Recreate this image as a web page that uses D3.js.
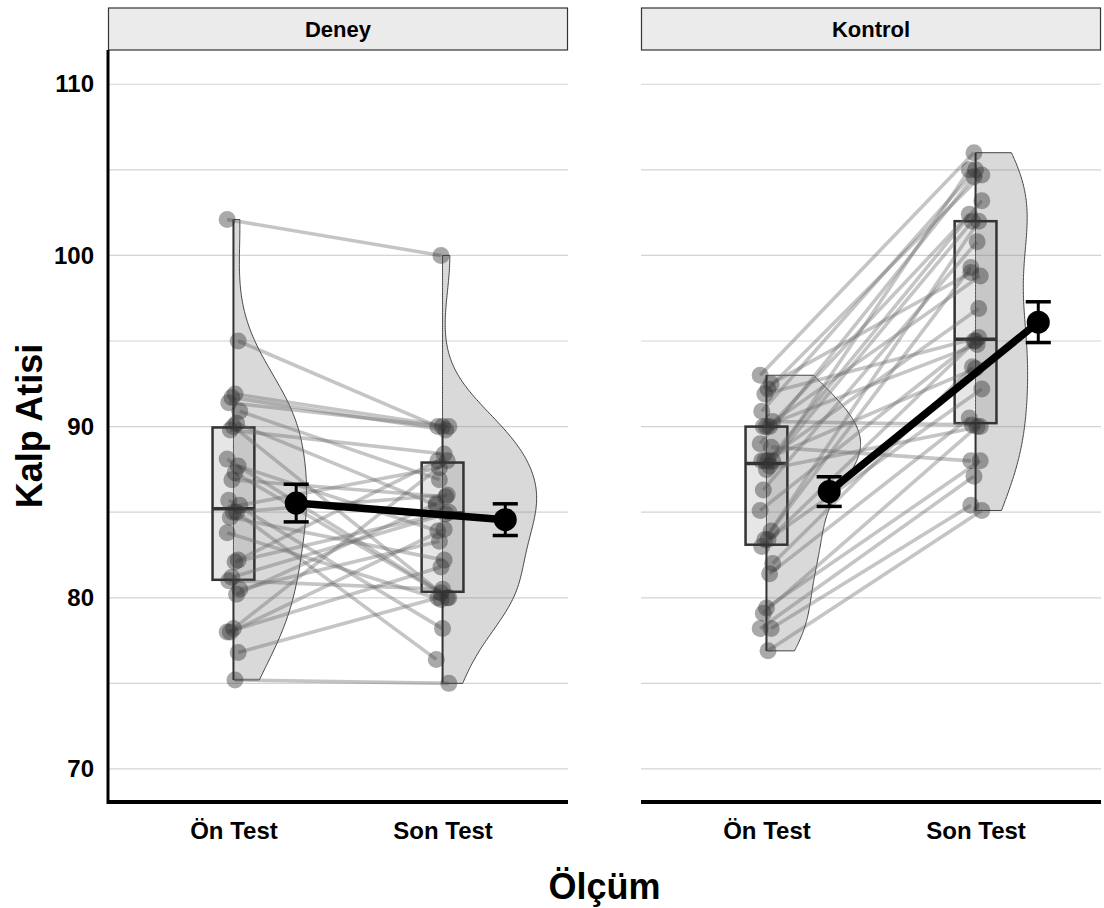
<!DOCTYPE html>
<meta charset="utf-8">
<style>
body { margin: 0; background: #fff; }
text { font-family: "Liberation Sans", Arial, sans-serif; font-weight: bold; fill: #000; }
.tick text { font-size: 24px; }
.strip text { font-size: 22px; }
</style>
<svg width="1104" height="908"></svg>
<script src="https://d3js.org/d3.v7.min.js"></script>
<script>
// facets and categories
var groups = ["Deney", "Kontrol"];
var olcum = ["Ön Test", "Son Test"];
var yTicks = [70, 80, 90, 100, 110];
var yGrid = [70, 75, 80, 85, 90, 95, 100, 105, 110];

// paired values, one entry per subject (Ön Test, Son Test)
var deneyOn  = [102.1, 95.0, 91.9, 91.7, 91.4, 90.9, 90.2, 90.0, 89.8, 88.1, 87.7, 87.3, 86.9, 85.7, 85.4,
                85.0, 85.0, 84.7, 83.8, 82.2, 82.1, 81.2, 81.0, 80.5, 80.2, 78.2, 78.0, 78.0, 76.8, 75.2];
var deneySon = [100.0, 90.0, 90.0, 89.8, 90.0, 86.9, 85.4, 80.0, 88.4, 80.3, 83.9, 80.0, 85.9, 78.2, 87.6,
                76.4, 86.0, 82.2, 79.9, 88.0, 85.0, 84.9, 80.5, 83.3, 85.5, 88.0, 84.0, 81.8, 80.0, 75.0];
var kontrolOn  = [93.0, 92.5, 92.2, 91.9, 90.9, 90.3, 90.0, 90.0, 90.0, 89.0, 88.8, 88.0, 88.0, 88.0, 88.0,
                  87.7, 87.5, 86.3, 85.1, 83.9, 83.4, 83.4, 83.0, 82.0, 81.4, 79.4, 79.1, 78.2, 78.2, 76.9];
var kontrolSon = [106.0, 99.0, 104.7, 95.2, 105.0, 90.1, 102.4, 98.8, 94.8, 104.6, 88.0, 103.2, 96.9, 93.4, 102.0,
                  105.0, 90.0, 100.8, 95.0, 99.3, 92.2, 102.0, 95.0, 93.5, 90.5, 88.0, 90.0, 87.1, 85.4, 85.1];

var panelData = [[deneyOn, deneySon], [kontrolOn, kontrolSon]];

var svg = d3.select("svg");
var panelX = [108, 641], panelW = 460, panelTop = 50, panelBottom = 802;

var y = d3.scaleLinear().domain([68.07, 112]).range([panelBottom, panelTop]);
var x = d3.scaleLinear().domain([0.4, 2.6]).range([0, panelW]);

function kde(values) {
  var n = values.length;
  var sd = d3.deviation(values);
  var iqr = d3.quantile(values, 0.75) - d3.quantile(values, 0.25);
  var bw = 0.9 * Math.min(sd, iqr / 1.34) * Math.pow(n, -0.2);
  var lo = d3.min(values), hi = d3.max(values);
  return d3.range(256).map(function(i) {
    var yy = lo + (hi - lo) * i / 255;
    var d = d3.mean(values, function(v) {
      var u = (yy - v) / bw;
      return Math.exp(-0.5 * u * u) / Math.sqrt(2 * Math.PI);
    }) / bw;
    return { y: yy, d: d };
  });
}

function jit(i, k) { return (((i * 7 + k * 3) % 9) - 4) / 4 * 0.03; }

groups.forEach(function(name, p) {
  var g = svg.append("g").attr("transform", "translate(" + panelX[p] + ",0)");
  var series = panelData[p];

  // strip
  var strip = g.append("g").attr("class", "strip");
  strip.append("rect").attr("x", 0.5).attr("y", 8).attr("width", panelW - 1).attr("height", 42)
    .attr("fill", "#ebebeb").attr("stroke", "#333").attr("stroke-width", 1.2);
  strip.append("text").attr("x", panelW / 2).attr("y", 37).attr("text-anchor", "middle").text(name);

  // grid
  g.selectAll(".grid").data(yGrid).enter().append("line")
    .attr("x1", 0).attr("x2", panelW)
    .attr("y1", function(d) { return y(d); }).attr("y2", function(d) { return y(d); })
    .attr("stroke", "#d3d3d3").attr("stroke-width", 1.2);

  // half violins
  var dens = series.map(kde);
  var maxD = d3.max(dens, function(a) { return d3.max(a, function(e) { return e.d; }); });
  dens.forEach(function(a, k) {
    var xc = x(k + 1);
    var area = d3.area()
      .x0(xc)
      .x1(function(e) { return xc + (e.d / maxD) * (x(1.45) - x(1)); })
      .y(function(e) { return y(e.y); });
    g.append("path").datum(a).attr("d", area)
      .attr("fill", "rgba(128,128,128,0.3)").attr("stroke", "#444").attr("stroke-width", 1);
  });

  // boxplots
  series.forEach(function(vals, k) {
    var xc = x(k + 1), hw = (x(1.1) - x(1));
    var q1 = d3.quantile(vals, 0.25), med = d3.median(vals), q3 = d3.quantile(vals, 0.75);
    var iqr = q3 - q1;
    var lo = d3.min(vals.filter(function(v) { return v >= q1 - 1.5 * iqr; }));
    var hi = d3.max(vals.filter(function(v) { return v <= q3 + 1.5 * iqr; }));
    g.append("line").attr("x1", xc).attr("x2", xc).attr("y1", y(hi)).attr("y2", y(q3))
      .attr("stroke", "#333").attr("stroke-width", 2);
    g.append("line").attr("x1", xc).attr("x2", xc).attr("y1", y(q1)).attr("y2", y(lo))
      .attr("stroke", "#333").attr("stroke-width", 2);
    g.append("rect").attr("x", xc - hw).attr("width", 2 * hw)
      .attr("y", y(q3)).attr("height", y(q1) - y(q3))
      .attr("fill", "rgba(128,128,128,0.2)").attr("stroke", "#333").attr("stroke-width", 2.5);
    g.append("line").attr("x1", xc - hw).attr("x2", xc + hw).attr("y1", y(med)).attr("y2", y(med))
      .attr("stroke", "#333").attr("stroke-width", 3.5);
  });

  // paired lines
  var subjects = d3.range(series[0].length);
  g.selectAll(".pair").data(subjects).enter().append("line")
    .attr("x1", function(i) { return x(1 + jit(i, 0)); })
    .attr("x2", function(i) { return x(2 + jit(i, 1)); })
    .attr("y1", function(i) { return y(series[0][i]); })
    .attr("y2", function(i) { return y(series[1][i]); })
    .attr("stroke", "#666").attr("stroke-opacity", 0.38).attr("stroke-width", 3.6);

  // points
  series.forEach(function(vals, k) {
    g.selectAll(".pt" + k).data(vals).enter().append("circle")
      .attr("cx", function(d, i) { return x(k + 1 + jit(i, k)); })
      .attr("cy", function(d) { return y(d); })
      .attr("r", 8.5)
      .attr("fill", "#333").attr("fill-opacity", 0.42);
  });

  // means and standard errors
  var stats = series.map(function(vals, k) {
    var m = d3.mean(vals), se = d3.deviation(vals) / Math.sqrt(vals.length);
    return { x: x(k + 1.3), m: m, se: se };
  });
  g.append("path").datum(stats)
    .attr("d", d3.line().x(function(d) { return d.x; }).y(function(d) { return y(d.m); }))
    .attr("fill", "none").attr("stroke", "#000").attr("stroke-width", 7.5);
  stats.forEach(function(s) {
    var cw = x(1.06) - x(1);
    g.append("line").attr("x1", s.x).attr("x2", s.x).attr("y1", y(s.m + s.se)).attr("y2", y(s.m - s.se))
      .attr("stroke", "#000").attr("stroke-width", 3);
    [s.m + s.se, s.m - s.se].forEach(function(v) {
      g.append("line").attr("x1", s.x - cw).attr("x2", s.x + cw).attr("y1", y(v)).attr("y2", y(v))
        .attr("stroke", "#000").attr("stroke-width", 3.5);
    });
    g.append("circle").attr("cx", s.x).attr("cy", y(s.m)).attr("r", 11.5).attr("fill", "#000");
  });

  // x axis
  var xa = g.append("g").attr("transform", "translate(0," + panelBottom + ")")
    .call(d3.axisBottom(x).tickValues([1, 2]).tickFormat(function(d) { return olcum[d - 1]; })
      .tickSize(0).tickPadding(20));
  xa.select(".domain").remove();
  g.append("line").attr("x1", 0).attr("x2", panelW).attr("y1", panelBottom).attr("y2", panelBottom)
    .attr("stroke", "#000").attr("stroke-width", 4);

  if (p === 0) {
    var ya = g.append("g").call(d3.axisLeft(y).tickValues(yTicks).tickSize(0).tickPadding(14));
    ya.select(".domain").remove();
    g.append("line").attr("x1", 0).attr("x2", 0).attr("y1", panelTop).attr("y2", panelBottom + 2)
      .attr("stroke", "#000").attr("stroke-width", 3);
  }
});

svg.append("text").attr("transform", "translate(42," + (panelTop + panelBottom) / 2 + ") rotate(-90)")
  .attr("text-anchor", "middle").style("font-size", "36px").text("Kalp Atisi");
svg.append("text").attr("x", (panelX[0] + panelX[1] + panelW) / 2).attr("y", 899)
  .attr("text-anchor", "middle").style("font-size", "36px").text("Ölçüm");
</script>
